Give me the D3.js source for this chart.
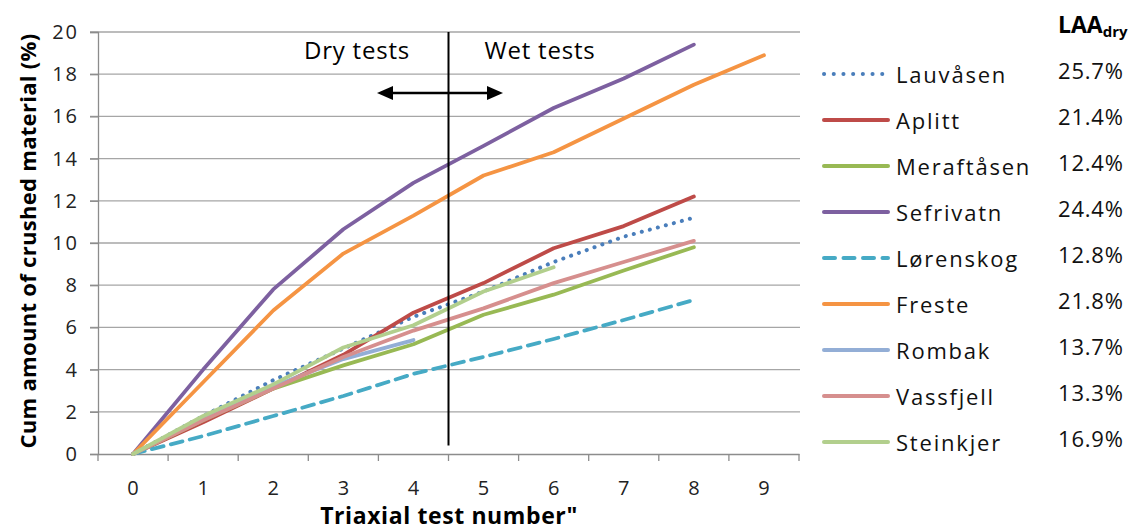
<!DOCTYPE html>
<html>
<head>
<meta charset="utf-8">
<script src="https://cdn.jsdelivr.net/npm/d3@7"></script>
<style>
  body { margin: 0; background: #fff; }
  svg { display: block; font-family: "Open Sans", sans-serif; }
</style>
</head>
<body>
<svg id="chart" width="1136" height="531"></svg>
<script>
// test numbers on the x axis
const testNumbers = [0, 1, 2, 3, 4, 5, 6, 7, 8, 9];
const yTicks = [0, 2, 4, 6, 8, 10, 12, 14, 16, 18, 20];

// cumulative crushed material (%) per test
const names = ["Lauvåsen", "Aplitt", "Meraftåsen", "Sefrivatn", "Lørenskog", "Freste", "Rombak", "Vassfjell", "Steinkjer"];
const laaDry = ["25.7%", "21.4%", "12.4%", "24.4%", "12.8%", "21.8%", "13.7%", "13.3%", "16.9%"];
const lauvasen = [0, 1.8, 3.5, 5.0, 6.5, 7.7, 9.1, 10.3, 11.2];
const aplitt = [0, 1.5, 3.1, 4.7, 6.7, 8.1, 9.75, 10.8, 12.2];
const meraftasen = [0, 1.6, 3.1, 4.2, 5.2, 6.6, 7.55, 8.7, 9.8];
const sefrivatn = [0, 4.0, 7.8, 10.65, 12.85, 14.6, 16.4, 17.8, 19.4];
const lorenskog = [0, 0.85, 1.8, 2.75, 3.8, 4.6, 5.45, 6.35, 7.3];
const freste = [0, 3.4, 6.8, 9.5, 11.3, 13.2, 14.3, 15.9, 17.5, 18.9];
const rombak = [0, 1.7, 3.2, 4.5, 5.4];
const vassfjell = [0, 1.6, 3.1, 4.6, 5.85, 6.9, 8.1, 9.1, 10.1];
const steinkjer = [0, 1.8, 3.3, 5.05, 6.1, 7.7, 8.85];

const seriesValues = [lauvasen, aplitt, meraftasen, sefrivatn, lorenskog, freste, rombak, vassfjell, steinkjer];
const colors = ["#4a7ebb", "#be4b48", "#98b954", "#7d60a0", "#46aac5", "#f59443", "#93aed6", "#d68f8e", "#b2cf8d"];
const dashes = ["0.1 8.2", null, null, null, "12 7.5", null, null, null, null];

const svg = d3.select("#chart");
const x = d3.scaleBand().domain(testNumbers).range([98, 799]);
const y = d3.scaleLinear().domain([0, 20]).range([454, 32]);
const cx = d => x(d) + x.bandwidth() / 2;

// gridlines
svg.append("g")
  .selectAll("line")
  .data(yTicks.slice(1))
  .enter().append("line")
  .attr("x1", 90).attr("x2", 800)
  .attr("y1", d => y(d)).attr("y2", d => y(d))
  .attr("stroke", "#a6a6a6").attr("stroke-width", 1.3);

// y axis
const yAxis = svg.append("g")
  .attr("transform", "translate(98,0)")
  .call(d3.axisLeft(y).tickValues(yTicks).tickSize(8).tickPadding(11));
yAxis.select(".domain").attr("stroke", "#8c8c8c").attr("stroke-width", 1.3);
yAxis.selectAll(".tick line").attr("stroke", "#8c8c8c").attr("stroke-width", 1.3);
yAxis.selectAll(".tick text")
  .attr("font-family", "Open Sans").attr("font-size", 20)
  .attr("letter-spacing", 2).attr("fill", "#222");

// x axis with ticks between categories
const xAxis = svg.append("g")
  .attr("transform", "translate(0,454)")
  .call(d3.axisBottom(x).tickSize(0).tickPadding(27));
xAxis.select(".domain").attr("stroke", "#8c8c8c").attr("stroke-width", 1.3);
xAxis.selectAll(".tick text")
  .attr("font-family", "Open Sans").attr("font-size", 20).attr("fill", "#222");
xAxis.append("g")
  .selectAll("line")
  .data(testNumbers.concat([10]))
  .enter().append("line")
  .attr("x1", d => d < 10 ? x(d) : x(9) + x.bandwidth())
  .attr("x2", d => d < 10 ? x(d) : x(9) + x.bandwidth())
  .attr("y1", 0).attr("y2", 7)
  .attr("stroke", "#8c8c8c").attr("stroke-width", 1.3);

// axis titles
svg.append("text")
  .attr("transform", `translate(36,${y(10) - 2}) rotate(-90)`)
  .attr("text-anchor", "middle")
  .attr("font-size", 22).attr("font-weight", "bold")
  .attr("letter-spacing", 0.3)
  .text("Cum amount of crushed material (%)");
svg.append("text")
  .attr("x", 449).attr("y", 524)
  .attr("text-anchor", "middle")
  .attr("font-size", 23).attr("font-weight", "bold")
  .attr("letter-spacing", 0.6)
  .text("Triaxial test number\"");

// series lines
const line = d3.line()
  .x((d, i) => cx(testNumbers[i]))
  .y(d => y(d));
svg.append("g")
  .selectAll("path")
  .data(seriesValues)
  .enter().append("path")
  .attr("d", d => line(d))
  .attr("fill", "none")
  .attr("stroke", (d, i) => colors[i])
  .attr("stroke-width", (d, i) => i === 0 ? 4 : 3.8)
  .attr("stroke-linecap", "round")
  .attr("stroke-linejoin", "round")
  .attr("stroke-dasharray", (d, i) => dashes[i]);

// dry / wet divider
const divX = x(5);
svg.append("line")
  .attr("x1", divX).attr("x2", divX)
  .attr("y1", y(20)).attr("y2", y(0.4))
  .attr("stroke", "#000").attr("stroke-width", 2);
svg.append("text")
  .attr("x", 357).attr("y", 59)
  .attr("text-anchor", "middle")
  .attr("font-size", 24).attr("letter-spacing", 0.8)
  .text("Dry tests");
svg.append("text")
  .attr("x", 540).attr("y", 59)
  .attr("text-anchor", "middle")
  .attr("font-size", 24).attr("letter-spacing", 0.8)
  .text("Wet tests");

// double arrow
const arrowY = 93, aL = 377, aR = 503;
svg.append("line")
  .attr("x1", aL + 10).attr("x2", aR - 10)
  .attr("y1", arrowY).attr("y2", arrowY)
  .attr("stroke", "#000").attr("stroke-width", 2.5);
svg.append("path")
  .attr("d", `M${aL},${arrowY} L${aL + 16},${arrowY - 7} L${aL + 16},${arrowY + 7} Z`)
  .attr("fill", "#000");
svg.append("path")
  .attr("d", `M${aR},${arrowY} L${aR - 16},${arrowY - 7} L${aR - 16},${arrowY + 7} Z`)
  .attr("fill", "#000");

// legend
const legend = svg.append("g");
const rowY = i => 74 + i * 46;
legend.selectAll("line")
  .data(names)
  .enter().append("line")
  .attr("x1", 824).attr("x2", 888)
  .attr("y1", (d, i) => rowY(i)).attr("y2", (d, i) => rowY(i))
  .attr("stroke", (d, i) => colors[i])
  .attr("stroke-width", 4)
  .attr("stroke-linecap", "round")
  .attr("stroke-dasharray", (d, i) => i === 0 ? "0.1 9.6" : (i === 4 ? "11 8.5" : null));
legend.selectAll("text.name")
  .data(names)
  .enter().append("text")
  .attr("class", "name")
  .attr("x", 896).attr("y", (d, i) => rowY(i) + 9)
  .attr("font-size", 22).attr("letter-spacing", 1.8)
  .attr("fill", "#111")
  .text(d => d);
legend.selectAll("text.pct")
  .data(laaDry)
  .enter().append("text")
  .attr("class", "pct")
  .attr("x", 1058).attr("y", (d, i) => rowY(i) + 5)
  .attr("font-size", 22).attr("letter-spacing", 0.8)
  .attr("fill", "#111")
  .text(d => d);

const laa = svg.append("text")
  .attr("x", 1058).attr("y", 33)
  .attr("font-size", 23).attr("font-weight", "bold");
laa.append("tspan").text("LAA");
laa.append("tspan").attr("font-size", 15).attr("dy", 4).text("dry");
</script>
</body>
</html>
